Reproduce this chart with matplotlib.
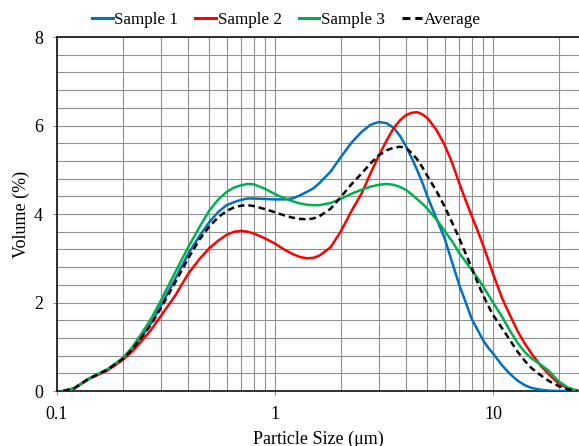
import numpy as np
import matplotlib
matplotlib.use("Agg")
import matplotlib.pyplot as plt
from matplotlib.ticker import LogLocator, MultipleLocator, FixedLocator, NullFormatter

# particle size (um) and volume (%)
size = [0.107, 0.12, 0.14, 0.17, 0.2, 0.22, 0.24, 0.27, 0.3, 0.35, 0.4, 0.45, 0.5, 0.55,
        0.6, 0.65, 0.7, 0.75, 0.8, 0.9, 1.0, 1.1, 1.2, 1.3, 1.4, 1.5, 1.6, 1.8, 2.0,
        2.25, 2.5, 2.75, 3.0, 3.25, 3.5, 3.75, 4.0, 4.25, 4.5, 4.75, 5.0, 5.5, 6.0, 6.5,
        7.0, 7.5, 8.0, 8.5, 9.0, 9.5, 10, 11, 12, 13, 14, 15, 16.5, 18, 20, 22, 24.5]
sample1 = [0, 0.06, 0.28, 0.48, 0.73, 0.93, 1.17, 1.53, 1.93, 2.55, 3.1, 3.5, 3.82, 4.05,
           4.2, 4.27, 4.32, 4.35, 4.35, 4.34, 4.33, 4.33, 4.35, 4.42, 4.5, 4.58, 4.7, 4.96, 5.28,
           5.62, 5.86, 6.02, 6.08, 6.05, 5.95, 5.76, 5.52, 5.25, 4.98, 4.7, 4.4, 3.9, 3.45, 2.9,
           2.4, 2.0, 1.62, 1.38, 1.15, 0.98, 0.85, 0.58, 0.38, 0.23, 0.13, 0.07, 0.03, 0.01, 0, 0, 0]
sample2 = [0, 0.06, 0.27, 0.46, 0.7, 0.88, 1.08, 1.38, 1.7, 2.17, 2.65, 2.98, 3.23, 3.4,
           3.53, 3.6, 3.62, 3.6, 3.56, 3.45, 3.33, 3.2, 3.1, 3.03, 3.0, 3.01, 3.06, 3.25, 3.6,
           4.08, 4.47, 4.93, 5.33, 5.66, 5.94, 6.12, 6.24, 6.29, 6.3, 6.25, 6.17, 5.9, 5.56, 5.15,
           4.7, 4.3, 3.95, 3.62, 3.3, 2.97, 2.65, 2.1, 1.7, 1.34, 1.07, 0.85, 0.58, 0.38, 0.17, 0.06, 0]
sample3 = [0, 0.06, 0.28, 0.49, 0.74, 0.97, 1.24, 1.63, 2.05, 2.7, 3.25, 3.7, 4.08, 4.33,
           4.5, 4.6, 4.65, 4.68, 4.67, 4.57, 4.45, 4.36, 4.29, 4.24, 4.21, 4.2, 4.2, 4.25, 4.34,
           4.46, 4.55, 4.62, 4.66, 4.68, 4.66, 4.61, 4.54, 4.44, 4.33, 4.23, 4.12, 3.88, 3.62, 3.38,
           3.12, 2.92, 2.73, 2.55, 2.37, 2.18, 2.0, 1.68, 1.35, 1.08, 0.88, 0.74, 0.6, 0.46, 0.22, 0.08, 0]
average = [0, 0.06, 0.28, 0.48, 0.72, 0.93, 1.16, 1.5, 1.88, 2.47, 3.0, 3.42, 3.72, 3.93,
           4.07, 4.15, 4.19, 4.2, 4.18, 4.11, 4.04, 3.97, 3.92, 3.89, 3.88, 3.9, 3.95, 4.12, 4.38,
           4.68, 4.92, 5.15, 5.33, 5.44, 5.5, 5.52, 5.49, 5.37, 5.23, 5.05, 4.86, 4.52, 4.17, 3.8,
           3.45, 3.1, 2.77, 2.45, 2.17, 1.93, 1.72, 1.42, 1.14, 0.88, 0.68, 0.52, 0.36, 0.23, 0.11, 0.04, 0]

plt.rcParams['font.family'] = ['Liberation Serif', 'DejaVu Serif']

fig = plt.figure(figsize=(5.79, 4.46), dpi=100)
ax = fig.add_axes([0.0984, 0.1233, 0.9016, 0.7937])

lw = 1.8
ax.plot(size, sample1, color='#0070C0', lw=lw, label='Sample 1', zorder=3)
ax.plot(size, sample2, color='#FF0000', lw=lw, label='Sample 2', zorder=3)
ax.plot(size, sample3, color='#00B050', lw=lw, label='Sample 3', zorder=3)
ax.plot(size, average, color='black', lw=lw, ls=(0, (2.6, 1.6)), label='Average', zorder=4)

ax.set_xscale('log')
ax.set_xlim(0.1, 24.8)
ax.set_ylim(0, 8)

ax.xaxis.set_major_locator(FixedLocator([0.1, 1, 10]))
ax.set_xticklabels(['0.1', '1', '10'])
ax.xaxis.set_minor_locator(LogLocator(base=10, subs=np.arange(2, 10)))
ax.xaxis.set_minor_formatter(NullFormatter())
ax.yaxis.set_major_locator(MultipleLocator(2))
ax.yaxis.set_minor_locator(MultipleLocator(0.4))

ax.grid(True, which='both', color='#909090', lw=0.8)
ax.set_axisbelow(True)

ax.tick_params(axis='both', which='major', labelsize=13, length=3, color='#909090')
ax.tick_params(axis='x', which='major', pad=8)
ax.tick_params(axis='y', which='major', pad=7)
ax.tick_params(axis='both', which='minor', length=0)

for side in ['left', 'bottom', 'top']:
    ax.spines[side].set_color('#222222')
    ax.spines[side].set_linewidth(1.3)
ax.spines['right'].set_visible(False)

ax.set_xlabel('Particle Size (μm)', fontsize=13, labelpad=5)
ax.set_ylabel('Volume (%)', fontsize=13, labelpad=3)

leg = fig.legend(loc='center', bbox_to_anchor=(0.495, 0.955), ncol=4, frameon=False,
                 fontsize=12.3, handlelength=1.2, handletextpad=0.1, columnspacing=1.0)
for line in leg.get_lines():
    line.set_linewidth(2.2)

fig.savefig('out.png', dpi=100)
